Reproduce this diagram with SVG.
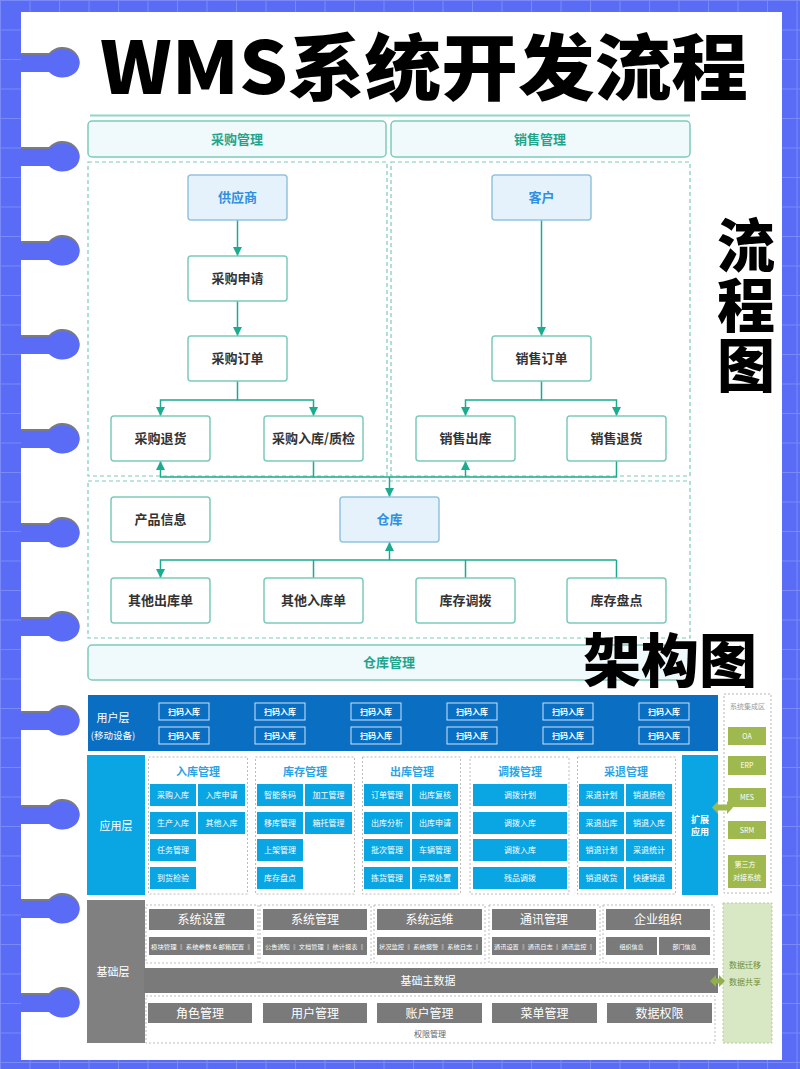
<svg xmlns="http://www.w3.org/2000/svg" width="800" height="1069" viewBox="0 0 800 1069">
<defs>
<pattern id="grid" width="29.5" height="29.5" patternUnits="userSpaceOnUse">
<path d="M0,0.5 H29.5 M0.5,0 V29.5" stroke="#7a89f8" stroke-width="1" fill="none"/>
</pattern>
<marker id="arr" viewBox="0 0 10 10" refX="10" refY="5" markerWidth="9" markerHeight="9" markerUnits="userSpaceOnUse" orient="auto">
<path d="M0,0 L10,5 L0,10 z" fill="#1aab90"/>
</marker>
<g id="hole">
<path d="M0,-9 H28 A17,15 0 1 1 28,9 H0 z" fill="#7a7a84"/>
<path d="M0,-7 H28 A17,14 0 1 1 28,10 H0 z" fill="#5a6cf6"/>
</g>
</defs>
<style>
.f{font-family:"Noto Sans CJK SC","Noto Sans",sans-serif}
.box{fill:#fff;stroke:#7ccabc;stroke-width:1.5}
.bbox{fill:#e6f2fb;stroke:#93c3df;stroke-width:1.5}
.hdr{fill:#f0f9fb;stroke:#7ccabc;stroke-width:1.5}
.dash{fill:none;stroke:#7ccabc;stroke-width:1.2;stroke-dasharray:4 3}
.t{font-size:13px;font-weight:700;fill:#333;text-anchor:middle}
.tb{font-size:13px;font-weight:700;fill:#2f8fe0;text-anchor:middle}
.th{font-size:13px;font-weight:700;fill:#1fa58c;text-anchor:middle}
.con{fill:none;stroke:#1aab90;stroke-width:1.5}
.big{font-weight:900;fill:#000}
.cell{fill:#0aa5e3}
.ct{font-size:8px;fill:#fff;text-anchor:middle}
.gd{fill:none;stroke:#bdbdbd;stroke-width:1;stroke-dasharray:2 2}
.gt{font-size:11px;font-weight:700;fill:#2aa3e4;text-anchor:middle}
.btn{fill:none;stroke:#cfe4f7;stroke-width:1}
.bt{font-size:8px;font-weight:700;fill:#fff;text-anchor:middle}
.gray{fill:#7a7a7a}
.gh{font-size:12px;fill:#fff;text-anchor:middle}
.gs{font-size:6px;fill:#fff}
.grn{fill:#9fb94f}
.gnt{font-size:7px;fill:#fff;text-anchor:middle}
</style>
<rect x="0" y="0" width="800" height="1069" fill="#5a6cf6"/>
<rect x="0" y="0" width="800" height="1069" fill="url(#grid)"/>
<rect x="21" y="12" width="761" height="1048" fill="#fff"/>
<g id="holes">
<use href="#hole" x="21" y="62"/>
<use href="#hole" x="21" y="156"/>
<use href="#hole" x="21" y="250"/>
<use href="#hole" x="21" y="344"/>
<use href="#hole" x="21" y="438"/>
<use href="#hole" x="21" y="532"/>
<use href="#hole" x="21" y="626"/>
<use href="#hole" x="21" y="720"/>
<use href="#hole" x="21" y="814"/>
<use href="#hole" x="21" y="908"/>
<use href="#hole" x="21" y="1002"/>
</g>
<g id="title">
<text class="f big" x="100" y="94" font-size="72" textLength="648" lengthAdjust="spacingAndGlyphs">WMS系统开发流程</text>
<line x1="90" y1="115.5" x2="690" y2="115.5" stroke="#8fd6c6" stroke-width="2"/>
</g>
<g id="label-flow">
<text class="f big" x="746" y="216" font-size="58" writing-mode="vertical-rl" letter-spacing="2">流程图</text>
</g>
<g id="regions">
<rect class="dash" x="88" y="162" width="299" height="314"/>
<rect class="dash" x="391" y="162" width="299" height="314"/>
<rect class="dash" x="88" y="481" width="602" height="157"/>
</g>
<g id="hdr-purchase"><rect class="hdr" x="88" y="121" width="298" height="36" rx="4"/><text class="f th" x="237" y="144">采购管理</text></g>
<g id="hdr-sales"><rect class="hdr" x="391" y="121" width="299" height="36" rx="4"/><text class="f th" x="540" y="144">销售管理</text></g>
<g id="hdr-wh"><rect class="hdr" x="88" y="645" width="602" height="35" rx="4"/><text class="f th" x="389" y="667">仓库管理</text></g>
<g id="connectors">
<path class="con" d="M237.5,220 V256" marker-end="url(#arr)"/>
<path class="con" d="M237.5,301 V336" marker-end="url(#arr)"/>
<path class="con" d="M237.5,381 V400 H160.5 V416" marker-end="url(#arr)"/>
<path class="con" d="M237.5,400 H313.5 V416" marker-end="url(#arr)"/>
<path class="con" d="M541.5,220 V336" marker-end="url(#arr)"/>
<path class="con" d="M541.5,381 V400 H465.5 V416" marker-end="url(#arr)"/>
<path class="con" d="M541.5,400 H616.5 V416" marker-end="url(#arr)"/>
<path class="con" d="M313.5,461 V477 H160.5 V461" marker-end="url(#arr)"/>
<path class="con" d="M616.5,461 V477 H313.5"/>
<path class="con" d="M465.5,477 V461" marker-end="url(#arr)"/>
<path class="con" d="M389.5,477 V497" marker-end="url(#arr)"/>
<path class="con" d="M389.5,560 V542" marker-end="url(#arr)"/>
<path class="con" d="M616.5,560 H160.5 V578" marker-end="url(#arr)"/>
<path class="con" d="M313.5,578 V560 M465.5,578 V560 M616.5,578 V560"/>
</g>
<g id="n-supplier"><rect class="bbox" x="188" y="175" width="99" height="45" rx="3"/><text class="f tb" x="237.5" y="202">供应商</text></g>
<g id="n-preq"><rect class="box" x="188" y="256" width="99" height="45" rx="3"/><text class="f t" x="237.5" y="283">采购申请</text></g>
<g id="n-porder"><rect class="box" x="188" y="336" width="99" height="45" rx="3"/><text class="f t" x="237.5" y="363">采购订单</text></g>
<g id="n-preturn"><rect class="box" x="111" y="416" width="99" height="45" rx="3"/><text class="f t" x="160.5" y="443">采购退货</text></g>
<g id="n-pin"><rect class="box" x="264" y="416" width="99" height="45" rx="3"/><text class="f t" x="313.5" y="443">采购入库/质检</text></g>
<g id="n-customer"><rect class="bbox" x="492" y="175" width="99" height="45" rx="3"/><text class="f tb" x="541.5" y="202">客户</text></g>
<g id="n-sorder"><rect class="box" x="492" y="336" width="99" height="45" rx="3"/><text class="f t" x="541.5" y="363">销售订单</text></g>
<g id="n-sout"><rect class="box" x="416" y="416" width="99" height="45" rx="3"/><text class="f t" x="465.5" y="443">销售出库</text></g>
<g id="n-sreturn"><rect class="box" x="567" y="416" width="99" height="45" rx="3"/><text class="f t" x="616.5" y="443">销售退货</text></g>
<g id="n-product"><rect class="box" x="111" y="497" width="99" height="45" rx="3"/><text class="f t" x="160.5" y="524">产品信息</text></g>
<g id="n-wh"><rect class="bbox" x="340" y="497" width="99" height="45" rx="3"/><text class="f tb" x="389.5" y="524">仓库</text></g>
<g id="n-oout"><rect class="box" x="111" y="578" width="99" height="45" rx="3"/><text class="f t" x="160.5" y="605">其他出库单</text></g>
<g id="n-oin"><rect class="box" x="264" y="578" width="99" height="45" rx="3"/><text class="f t" x="313.5" y="605">其他入库单</text></g>
<g id="n-transfer"><rect class="box" x="416" y="578" width="99" height="45" rx="3"/><text class="f t" x="465.5" y="605">库存调拨</text></g>
<g id="n-count"><rect class="box" x="567" y="578" width="99" height="45" rx="3"/><text class="f t" x="616.5" y="605">库存盘点</text></g>

<g id="user-layer" class="f">
<rect x="88" y="695" width="630" height="56" fill="#0a6fc2"/>
<text x="113" y="722" font-size="11" fill="#fff" text-anchor="middle">用户层</text>
<text x="113" y="739" font-size="9.5" fill="#fff" text-anchor="middle">(移动设备)</text>
<rect class="btn" x="159" y="703" width="50" height="17"/><text class="bt" x="184" y="714.5">扫码入库</text>
<rect class="btn" x="255" y="703" width="50" height="17"/><text class="bt" x="280" y="714.5">扫码入库</text>
<rect class="btn" x="351" y="703" width="50" height="17"/><text class="bt" x="376" y="714.5">扫码入库</text>
<rect class="btn" x="447" y="703" width="50" height="17"/><text class="bt" x="472" y="714.5">扫码入库</text>
<rect class="btn" x="543" y="703" width="50" height="17"/><text class="bt" x="568" y="714.5">扫码入库</text>
<rect class="btn" x="639" y="703" width="50" height="17"/><text class="bt" x="664" y="714.5">扫码入库</text>
<rect class="btn" x="159" y="727" width="50" height="17"/><text class="bt" x="184" y="738.5">扫码入库</text>
<rect class="btn" x="255" y="727" width="50" height="17"/><text class="bt" x="280" y="738.5">扫码入库</text>
<rect class="btn" x="351" y="727" width="50" height="17"/><text class="bt" x="376" y="738.5">扫码入库</text>
<rect class="btn" x="447" y="727" width="50" height="17"/><text class="bt" x="472" y="738.5">扫码入库</text>
<rect class="btn" x="543" y="727" width="50" height="17"/><text class="bt" x="568" y="738.5">扫码入库</text>
<rect class="btn" x="639" y="727" width="50" height="17"/><text class="bt" x="664" y="738.5">扫码入库</text>
</g>

<g id="label-arch">
<text class="f big" x="583" y="682" font-size="58">架构图</text>
</g>

<g id="app-layer" class="f">
<rect x="87" y="755" width="58" height="140" fill="#0aa5e3"/>
<text x="116" y="830" font-size="11" fill="#fff" text-anchor="middle">应用层</text>
<rect class="gd" x="148.5" y="757" width="99" height="137"/>
<rect class="gd" x="255.5" y="757" width="99" height="137"/>
<rect class="gd" x="362.5" y="757" width="98" height="137"/>
<rect class="gd" x="470" y="757" width="99" height="137"/>
<rect class="gd" x="577.5" y="757" width="98" height="137"/>
<text class="gt" x="198" y="776">入库管理</text>
<text class="gt" x="305" y="776">库存管理</text>
<text class="gt" x="412" y="776">出库管理</text>
<text class="gt" x="520" y="776">调拨管理</text>
<text class="gt" x="626" y="776">采退管理</text>
<g id="g-in">
<rect class="cell" x="150" y="784" width="46" height="22"/><text class="ct" x="173" y="798">采购入库</text>
<rect class="cell" x="198" y="784" width="47" height="22"/><text class="ct" x="221.5" y="798">入库申请</text>
<rect class="cell" x="150" y="812" width="46" height="22"/><text class="ct" x="173" y="826">生产入库</text>
<rect class="cell" x="198" y="812" width="47" height="22"/><text class="ct" x="221.5" y="826">其他入库</text>
<rect class="cell" x="150" y="839" width="46" height="22"/><text class="ct" x="173" y="853">任务管理</text>
<rect class="cell" x="150" y="867" width="46" height="22"/><text class="ct" x="173" y="881">到货检验</text>
</g>
<g id="g-stock">
<rect class="cell" x="257" y="784" width="46" height="22"/><text class="ct" x="280" y="798">智能条码</text>
<rect class="cell" x="305" y="784" width="47" height="22"/><text class="ct" x="328.5" y="798">加工管理</text>
<rect class="cell" x="257" y="812" width="46" height="22"/><text class="ct" x="280" y="826">移库管理</text>
<rect class="cell" x="305" y="812" width="47" height="22"/><text class="ct" x="328.5" y="826">箱托管理</text>
<rect class="cell" x="257" y="839" width="46" height="22"/><text class="ct" x="280" y="853">上架管理</text>
<rect class="cell" x="257" y="867" width="46" height="22"/><text class="ct" x="280" y="881">库存盘点</text>
</g>
<g id="g-out">
<rect class="cell" x="364" y="784" width="46" height="22"/><text class="ct" x="387" y="798">订单管理</text>
<rect class="cell" x="412" y="784" width="46" height="22"/><text class="ct" x="435" y="798">出库复核</text>
<rect class="cell" x="364" y="812" width="46" height="22"/><text class="ct" x="387" y="826">出库分析</text>
<rect class="cell" x="412" y="812" width="46" height="22"/><text class="ct" x="435" y="826">出库申请</text>
<rect class="cell" x="364" y="839" width="46" height="22"/><text class="ct" x="387" y="853">批次管理</text>
<rect class="cell" x="412" y="839" width="46" height="22"/><text class="ct" x="435" y="853">车辆管理</text>
<rect class="cell" x="364" y="867" width="46" height="22"/><text class="ct" x="387" y="881">拣货管理</text>
<rect class="cell" x="412" y="867" width="46" height="22"/><text class="ct" x="435" y="881">异常处置</text>
</g>
<g id="g-transfer">
<rect class="cell" x="473" y="784" width="94" height="22"/><text class="ct" x="520" y="798">调拨计划</text>
<rect class="cell" x="473" y="812" width="94" height="22"/><text class="ct" x="520" y="826">调拨入库</text>
<rect class="cell" x="473" y="839" width="94" height="22"/><text class="ct" x="520" y="853">调拨入库</text>
<rect class="cell" x="473" y="867" width="94" height="22"/><text class="ct" x="520" y="881">残品调拨</text>
</g>
<g id="g-return">
<rect class="cell" x="579" y="784" width="45" height="22"/><text class="ct" x="601.5" y="798">采退计划</text>
<rect class="cell" x="626" y="784" width="46" height="22"/><text class="ct" x="649" y="798">销退质检</text>
<rect class="cell" x="579" y="812" width="45" height="22"/><text class="ct" x="601.5" y="826">采退出库</text>
<rect class="cell" x="626" y="812" width="46" height="22"/><text class="ct" x="649" y="826">销退入库</text>
<rect class="cell" x="579" y="839" width="45" height="22"/><text class="ct" x="601.5" y="853">销退计划</text>
<rect class="cell" x="626" y="839" width="46" height="22"/><text class="ct" x="649" y="853">采退统计</text>
<rect class="cell" x="579" y="867" width="45" height="22"/><text class="ct" x="601.5" y="881">销退收货</text>
<rect class="cell" x="626" y="867" width="46" height="22"/><text class="ct" x="649" y="881">快捷销退</text>
</g>
<g id="ext-app">
<rect class="cell" x="682" y="755" width="36" height="140"/>
<text x="700" y="823" font-size="9" font-weight="700" fill="#fff" text-anchor="middle">扩展</text>
<text x="700" y="835" font-size="9" font-weight="700" fill="#fff" text-anchor="middle">应用</text>
</g>
</g>

<g id="integration" class="f">
<rect x="724" y="694" width="47" height="199" fill="none" stroke="#b5b5b5" stroke-width="1" stroke-dasharray="2 2"/>
<text x="747.5" y="709" font-size="7" fill="#9a9a9a" text-anchor="middle">系统集成区</text>
<rect class="grn" x="728" y="727" width="38" height="18"/><text class="gnt" x="747" y="739">OA</text>
<rect class="grn" x="728" y="756" width="38" height="19"/><text class="gnt" x="747" y="768">ERP</text>
<rect class="grn" x="728" y="788" width="38" height="19"/><text class="gnt" x="747" y="800">MES</text>
<rect class="grn" x="728" y="821" width="38" height="18"/><text class="gnt" x="747" y="833">SRM</text>
<rect class="grn" x="728" y="855" width="38" height="33"/>
<text class="gnt" x="745" y="867">第三方</text>
<text class="gnt" x="747" y="880">对接系统</text>
<path d="M712,807.5 L718,801 V804.5 H727 V801 L733,807.5 L727,814 V810.5 H718 V814 z" fill="#9fb94f"/>
</g>

<g id="base-layer" class="f">
<rect x="87" y="900" width="58" height="143" fill="#808080"/>
<text x="113" y="976" font-size="11" fill="#fff" text-anchor="middle">基础层</text>
<rect class="gd" x="146" y="905" width="112" height="58"/>
<rect class="gd" x="260" y="905" width="111" height="58"/>
<rect class="gd" x="374" y="905" width="111" height="58"/>
<rect class="gd" x="489" y="905" width="111" height="58"/>
<rect class="gd" x="603" y="905" width="111" height="58"/>
<rect class="gray" x="149" y="909" width="105" height="21"/><text class="gh" x="201.5" y="924">系统设置</text>
<rect class="gray" x="263" y="909" width="104" height="21"/><text class="gh" x="315" y="924">系统管理</text>
<rect class="gray" x="377" y="909" width="105" height="21"/><text class="gh" x="429.5" y="924">系统运维</text>
<rect class="gray" x="492" y="909" width="104" height="21"/><text class="gh" x="544" y="924">通讯管理</text>
<rect class="gray" x="606" y="909" width="104" height="21"/><text class="gh" x="658" y="924">企业组织</text>
<rect class="gray" x="149" y="937" width="105" height="18"/><text class="gs" x="151" y="948.5" textLength="101" lengthAdjust="spacingAndGlyphs">模块管理 ‖ 系统参数 &amp; 邮箱配置 ‖</text>
<rect class="gray" x="263" y="937" width="104" height="18"/><text class="gs" x="265" y="948.5" textLength="100" lengthAdjust="spacingAndGlyphs">公告通知 ‖ 文档管理 ‖ 统计报表 ‖</text>
<rect class="gray" x="377" y="937" width="105" height="18"/><text class="gs" x="379" y="948.5" textLength="101" lengthAdjust="spacingAndGlyphs">状况监控 ‖ 系统报警 ‖ 系统日志 ‖</text>
<rect class="gray" x="492" y="937" width="104" height="18"/><text class="gs" x="494" y="948.5" textLength="100" lengthAdjust="spacingAndGlyphs">通讯设置 ‖ 通讯日志 ‖ 通讯监控 ‖</text>
<rect class="gray" x="606" y="937" width="51" height="18"/><text class="gs" x="631.5" y="948.5" text-anchor="middle">组织信息</text>
<rect class="gray" x="659" y="937" width="51" height="18"/><text class="gs" x="684.5" y="948.5" text-anchor="middle">部门信息</text>
<rect class="gray" x="144" y="968" width="574" height="25"/>
<text x="428" y="985" font-size="11" fill="#fff" text-anchor="middle">基础主数据</text>
<rect class="gd" x="146" y="996" width="569" height="47"/>
<rect class="gray" x="148" y="1003" width="104" height="20"/><text class="gh" x="200" y="1017.5">角色管理</text>
<rect class="gray" x="263" y="1003" width="104" height="20"/><text class="gh" x="315" y="1017.5">用户管理</text>
<rect class="gray" x="377" y="1003" width="105" height="20"/><text class="gh" x="429.5" y="1017.5">账户管理</text>
<rect class="gray" x="492" y="1003" width="105" height="20"/><text class="gh" x="544.5" y="1017.5">菜单管理</text>
<rect class="gray" x="607" y="1003" width="105" height="20"/><text class="gh" x="659.5" y="1017.5">数据权限</text>
<text x="430" y="1037" font-size="8" fill="#666" text-anchor="middle">权限管理</text>
</g>

<g id="data-box" class="f">
<rect x="723" y="903" width="49" height="140" fill="#d9e8c4" stroke="#b9cc95" stroke-width="1" stroke-dasharray="2 2"/>
<text x="745" y="968" font-size="8" fill="#6f8f3a" text-anchor="middle">数据迁移</text>
<text x="745" y="985" font-size="8" fill="#6f8f3a" text-anchor="middle">数据共享</text>
<path d="M710,981 L716,975 V978.5 H719 V975 L725,981 L719,987 V983.5 H716 V987 z" fill="#8fb04a"/>
</g>
</svg>
